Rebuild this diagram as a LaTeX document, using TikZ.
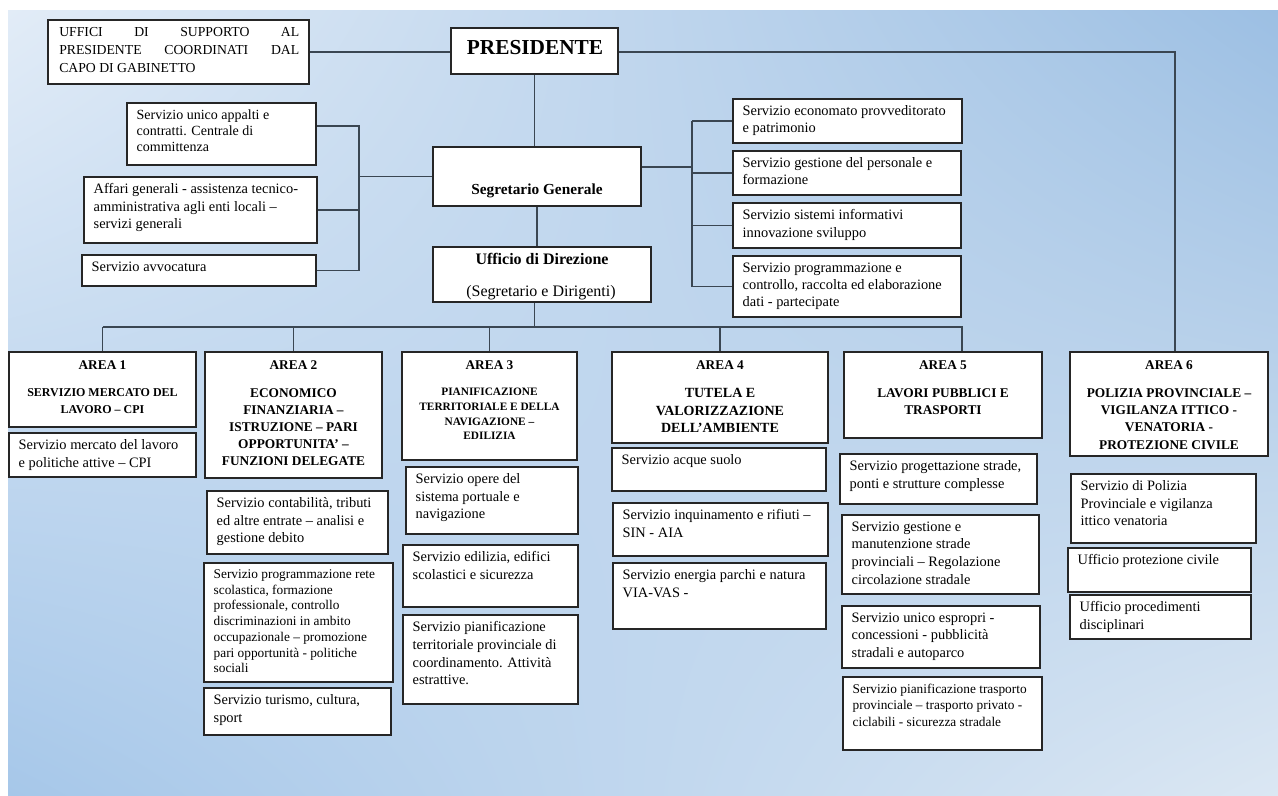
\documentclass[tikz,border=0pt]{standalone}
\usepackage{fontspec}
\setmainfont{Liberation Serif}
\usetikzlibrary{positioning,fit,shadows,shadings}
\definecolor{bgpale}{RGB}{226,236,247}
\definecolor{bgdeep}{RGB}{156,191,227}
\definecolor{bgleft}{RGB}{166,199,233}
\definecolor{bglight}{RGB}{219,231,243}
\definecolor{wire}{RGB}{58,70,82}

\begin{document}
\begin{tikzpicture}[x=0.75pt,y=-0.75pt,
  every node/.style={inner sep=0pt},
  box/.style={draw=black!85,line width=0.9pt,fill=white,
    drop shadow={shadow xshift=0.9pt,shadow yshift=-0.9pt,opacity=0.45}},
  svc/.style={anchor=north west,align=left},
  hdr/.style={anchor=north,align=center,font=\bfseries\fontsize{10}{12.75}\selectfont},
  link/.style={draw=wire,line width=1.2pt}]

  \useasboundingbox (0,0) rectangle (1278,796);
  \shade[upper left=bgpale,upper right=bgdeep,lower left=bgleft,lower right=bglight]
    (8,10) rectangle (1278,796);

  \node[box,fit={(48,20) (309,84)}] (uff) {};
  \node[anchor=north west,text width=180pt,align=justify,font=\fontsize{10.3}{13.5}\selectfont]
    (uff-t) at (59,27) {UFFICI DI SUPPORTO AL\linebreak PRESIDENTE COORDINATI DAL\linebreak CAPO DI GABINETTO};
  \node[box,fit={(451,28) (618,74)}] (pres) {};
  \node[anchor=base,font=\bfseries\fontsize{16}{18}\selectfont] (pres-t) at (535,54) {PRESIDENTE};
  \node[box,fit={(433,147) (641,206)}] (seg) {};
  \node[anchor=base,font=\bfseries\fontsize{11.5}{14}\selectfont] (seg-t) at (537,194) {Segretario Generale};
  \node[box,fit={(433,247) (651,302)}] (udd) {};
  \node[anchor=base,font=\bfseries\fontsize{12}{14}\selectfont] (udd-t) at (542,264) {Ufficio di Direzione};
  \node[anchor=base,font=\fontsize{12}{14}\selectfont] (udd-s) at (541,296) {(Segretario e Dirigenti)};

  \foreach \n/\xa/\ya/\xb/\yb/\fs/\bs/\t in {
    app/127/103/316/165/10.5/12.2/{Servizio unico appalti e\\contratti. Centrale di\\committenza},
    aff/84/177/317/243/10.8/13/{Affari generali - assistenza tecnico-\\amministrativa agli enti locali –\\servizi generali},
    avv/82/255/316/286/10.8/13/{Servizio avvocatura},
    r1/733/99/962/143/10.8/13/{Servizio economato provveditorato\\e patrimonio},
    r2/733/151/961/195/10.8/13/{Servizio gestione del personale e\\formazione},
    r3/733/203/961/248/10.8/13/{Servizio sistemi informativi\\innovazione sviluppo},
    r4/733/256/961/317/10.8/13/{Servizio programmazione e\\controllo, raccolta ed elaborazione\\dati - partecipate},
    s11/9/433/196/477/10.8/13.2/{Servizio mercato del lavoro\\e politiche attive – CPI},
    s21/207/491/388/554/10.8/13.2/{Servizio contabilità, tributi\\ed altre entrate – analisi e\\gestione debito},
    s22/204/563/393/682/10/11.8/{Servizio programmazione rete\\scolastica, formazione\\professionale, controllo\\discriminazioni in ambito\\occupazionale – promozione\\pari opportunità - politiche\\sociali},
    s23/204/688/391/735/10.8/13.2/{Servizio turismo, cultura,\\sport},
    s31/406/467/578/534/10.8/13.2/{Servizio opere del\\sistema portuale e\\navigazione},
    s32/403/545/578/607/10.8/13.2/{Servizio edilizia, edifici\\scolastici e sicurezza},
    s33/403/615/578/704/10.8/13.2/{Servizio pianificazione\\territoriale provinciale di\\coordinamento. Attività\\estrattive.},
    s41/612/448/826/491/10.8/13.2/{Servizio acque suolo},
    s42/613/503/828/556/10.8/13.2/{Servizio inquinamento e rifiuti –\\SIN - AIA},
    s43/613/563/826/629/10.8/13.2/{Servizio energia parchi e natura\\VIA-VAS -},
    s51/840/454/1037/504/10.8/13.2/{Servizio progettazione strade,\\ponti e strutture complesse},
    s52/842/515/1039/594/10.8/13.2/{Servizio gestione e\\manutenzione strade\\provinciali – Regolazione\\circolazione stradale},
    s53/842/606/1040/668/10.8/13.2/{Servizio unico espropri -\\concessioni - pubblicità\\stradali e autoparco},
    s54/843/677/1042/750/10/12.5/{Servizio pianificazione trasporto\\provinciale – trasporto privato -\\ciclabili - sicurezza stradale},
    s61/1071/474/1256/543/10.8/13.2/{Servizio di Polizia\\Provinciale e vigilanza\\ittico venatoria},
    s62/1068/548/1251/592/10.8/13.2/{Ufficio protezione civile},
    s63/1070/595/1251/639/10.8/13.2/{Ufficio procedimenti\\disciplinari}}{
    \node[box,fit={(\xa,\ya) (\xb,\yb)}] (\n) {};
    \node[svc,font=\fontsize{\fs}{\bs}\selectfont] (\n-t) at ([xshift=7.5pt,yshift=-5.25pt]\n.north west) {\t};
  }

  \foreach \i/\xa/\xb/\yb/\fs/\bs/\t in {
    1/9/196/427/9/12.75/{SERVIZIO MERCATO DEL\\LAVORO – CPI},
    2/205/382/478/10/12.75/{ECONOMICO\\FINANZIARIA –\\ISTRUZIONE – PARI\\OPPORTUNITA’ –\\FUNZIONI DELEGATE},
    3/402/577/460/8.5/11/{PIANIFICAZIONE\\TERRITORIALE E DELLA\\NAVIGAZIONE –\\EDILIZIA},
    4/612/828/443/10.5/13.25/{TUTELA E\\VALORIZZAZIONE\\DELL’AMBIENTE},
    5/844/1042/438/10/12.75/{LAVORI PUBBLICI E\\TRASPORTI},
    6/1070/1268/456/10/13/{POLIZIA PROVINCIALE –\\VIGILANZA ITTICO -\\VENATORIA -\\PROTEZIONE CIVILE}}{
    \node[box,fit={(\xa,352) (\xb,\yb)}] (A\i) {};
    \node[hdr] (A\i-l) at ([yshift=-6.75pt]A\i.north) {AREA \i};
    \node[hdr,font=\bfseries\fontsize{\fs}{\bs}\selectfont] (A\i-t) at ([yshift=-27.5pt]A\i.north) {\t};
  }

  \draw[link] (uff.east) -- (uff.east -| pres.west);
  \coordinate (pr) at (1175,52);
  \draw[link] (pres.east |- pr) -- (pr) -- (pr |- A6.north);
  \draw[link] (pres.south) -- (pres.south |- seg.north);
  \draw[link] (seg.south) -- (seg.south |- udd.north);

  \coordinate (lb) at (359,126);
  \draw[link] (app.east |- lb) -- (lb) -- (lb |- avv.east);
  \foreach \n in {aff,avv} \draw[link] (\n.east) -- (\n.east -| lb);
  \draw[link] (seg.west) -- (seg.west -| lb);

  \coordinate (rb) at (692,167);
  \draw[link] (seg.east |- rb) -- (rb);
  \draw[link] (r1.west -| rb) -- (r4.west -| rb);
  \foreach \n in {r1,r2,r3,r4} \draw[link] (\n.west) -- (\n.west -| rb);

  \coordinate (bus) at (962,327);
  \draw[link] (udd.south -| pres.south) -- (pres.south |- bus);
  \draw[link] (A1.north |- bus) -- (bus) -- (bus |- A5.north);
  \foreach \i in {1,...,4} \draw[link] (A\i.north |- bus) -- (A\i.north);
\end{tikzpicture}
\end{document}
